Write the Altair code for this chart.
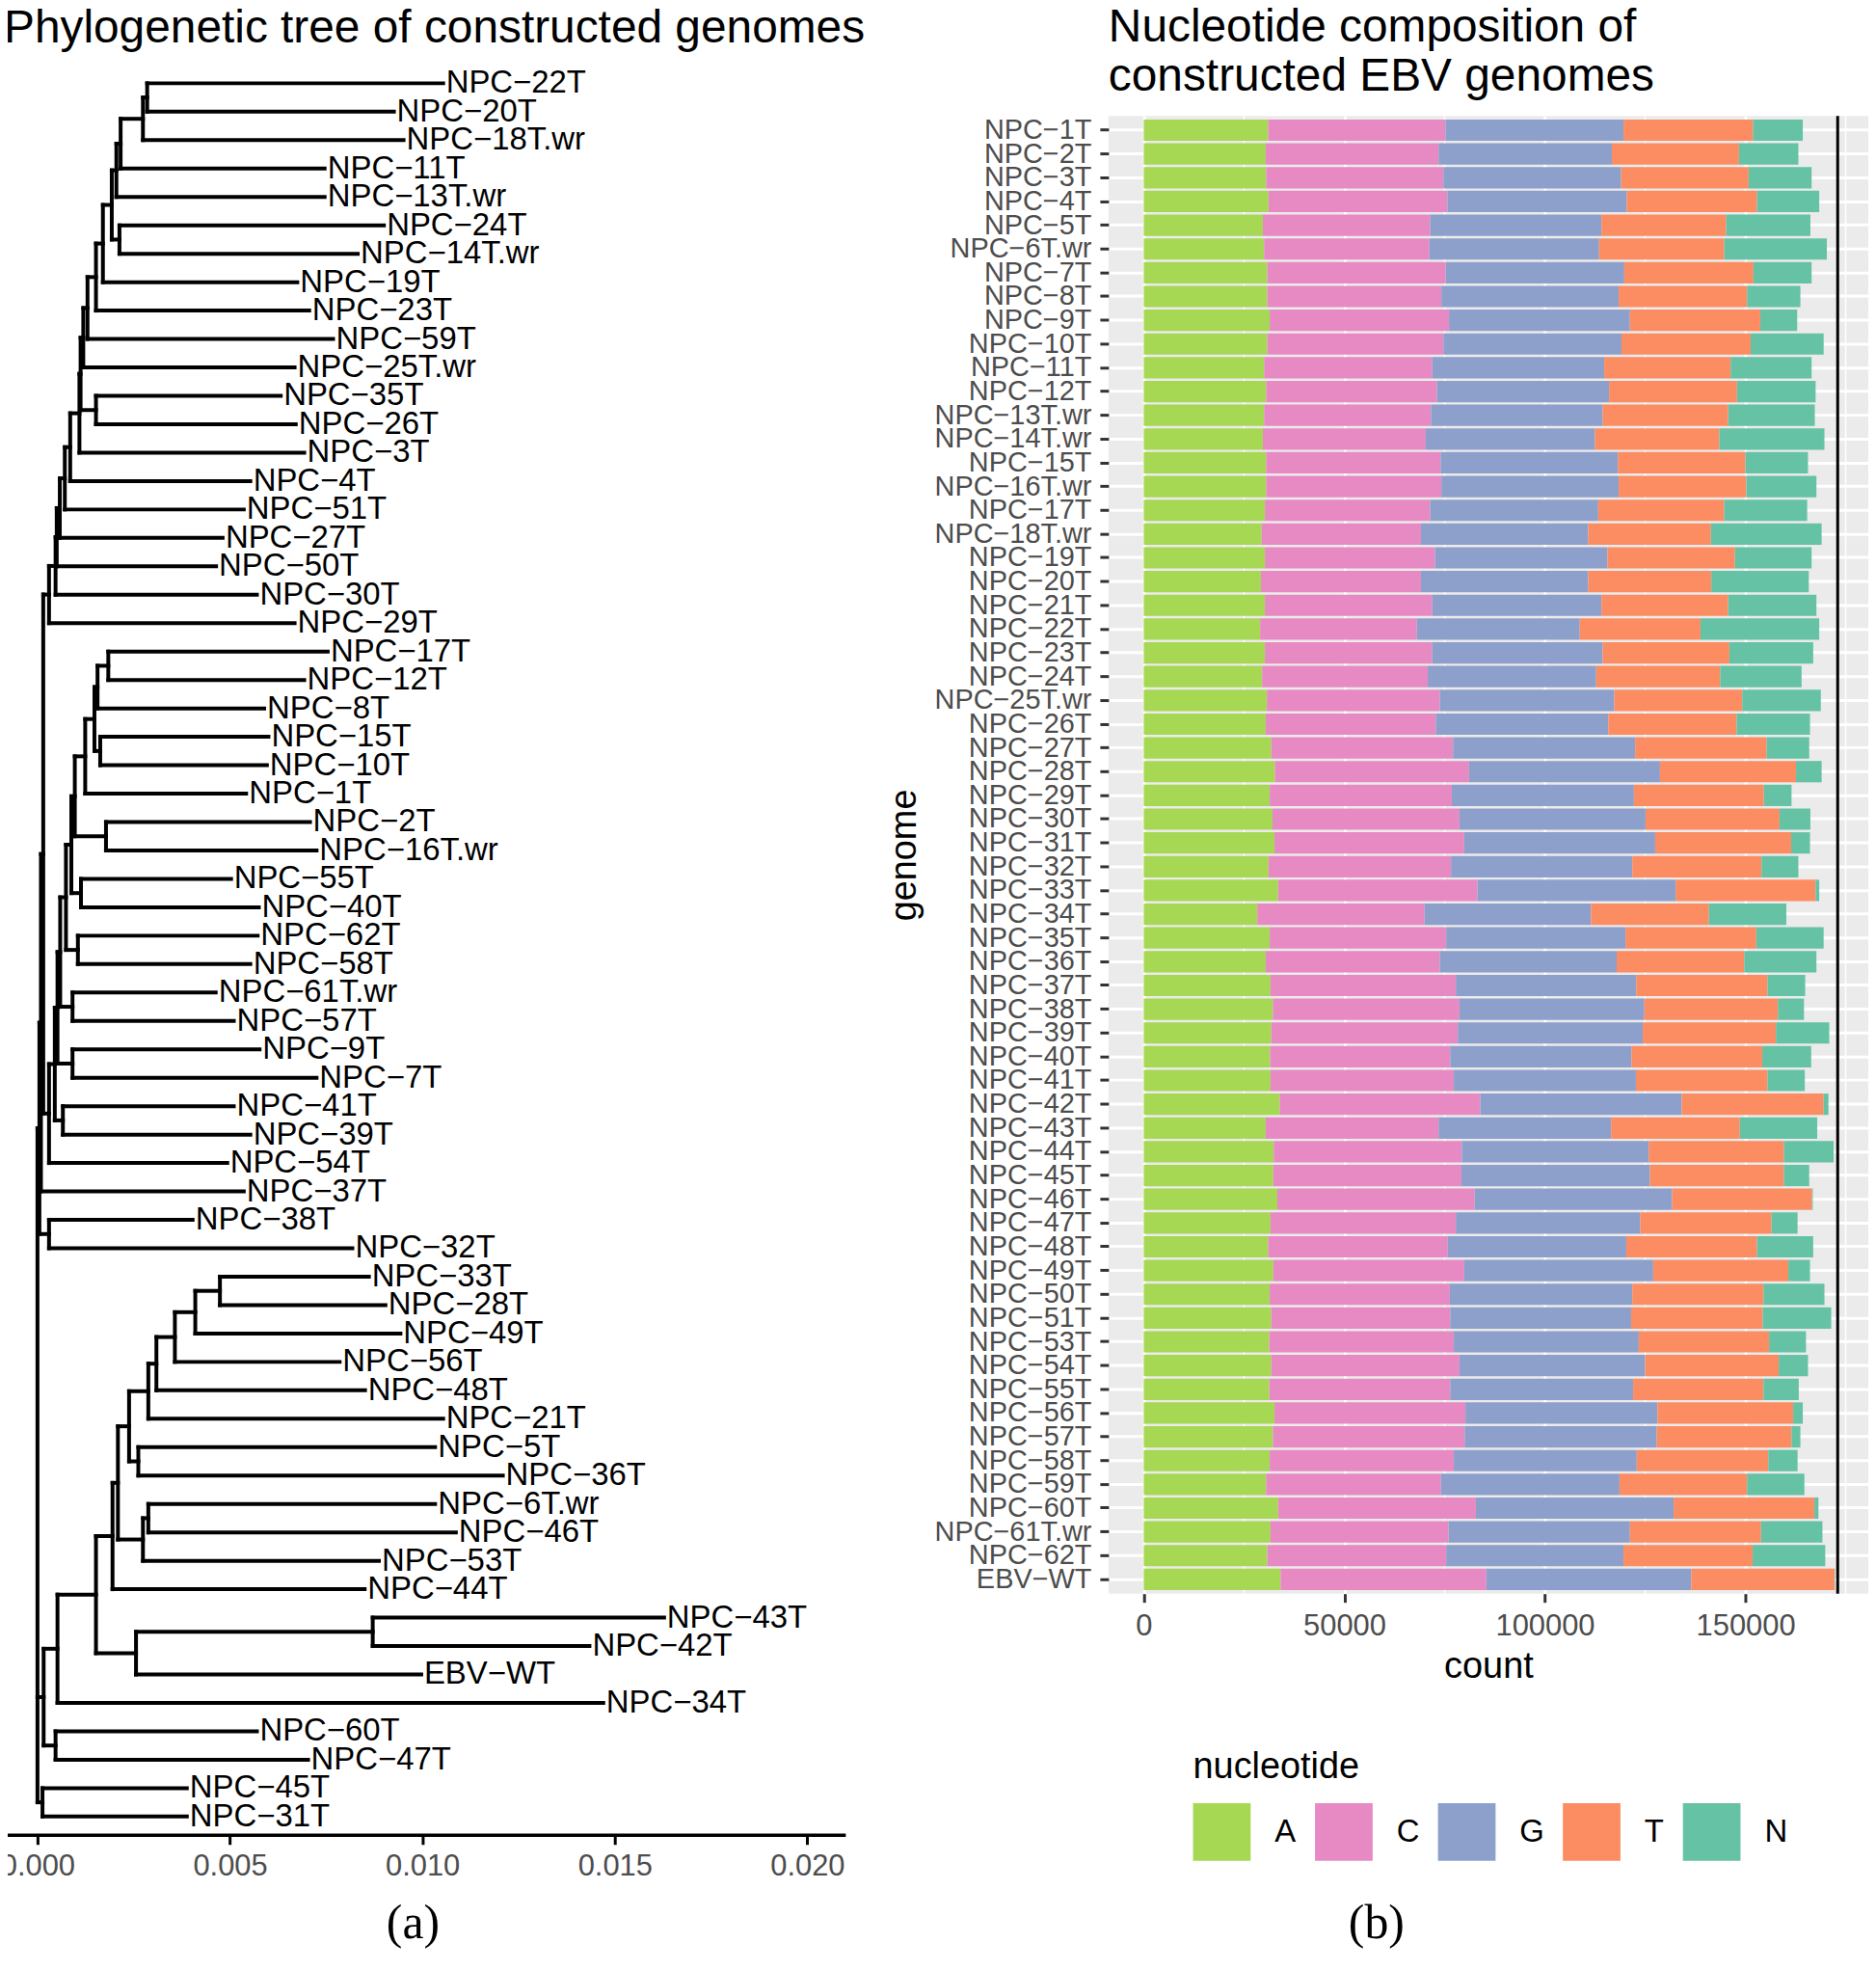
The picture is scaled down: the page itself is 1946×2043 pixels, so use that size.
import altair as alt
import numpy as np
import pandas as pd

FONT = "Liberation Sans"
SERIF = "Liberation Serif"
MINUS = "\u2212"

# ---------------- phylogenetic tree (a) ----------------
tip_labels = ["NPC-22T", "NPC-20T", "NPC-18T.wr", "NPC-11T", "NPC-13T.wr", "NPC-24T", "NPC-14T.wr",
              "NPC-19T", "NPC-23T", "NPC-59T", "NPC-25T.wr", "NPC-35T", "NPC-26T", "NPC-3T", "NPC-4T",
              "NPC-51T", "NPC-27T", "NPC-50T", "NPC-30T", "NPC-29T", "NPC-17T", "NPC-12T", "NPC-8T",
              "NPC-15T", "NPC-10T", "NPC-1T", "NPC-2T", "NPC-16T.wr", "NPC-55T", "NPC-40T", "NPC-62T",
              "NPC-58T", "NPC-61T.wr", "NPC-57T", "NPC-9T", "NPC-7T", "NPC-41T", "NPC-39T", "NPC-54T",
              "NPC-37T", "NPC-38T", "NPC-32T", "NPC-33T", "NPC-28T", "NPC-49T", "NPC-56T", "NPC-48T",
              "NPC-21T", "NPC-5T", "NPC-36T", "NPC-6T.wr", "NPC-46T", "NPC-53T", "NPC-44T", "NPC-43T",
              "NPC-42T", "EBV-WT", "NPC-34T", "NPC-60T", "NPC-47T", "NPC-45T", "NPC-31T"]
tip_dist = [0.01054, 0.00926, 0.00951, 0.00746, 0.00746, 0.00900, 0.00832, 0.00675, 0.00706, 0.00768,
            0.00668, 0.00632, 0.00671, 0.00693, 0.00553, 0.00536, 0.00481, 0.00464, 0.00570, 0.00668,
            0.00754, 0.00693, 0.00589, 0.00600, 0.00596, 0.00542, 0.00708, 0.00725, 0.00503, 0.00575,
            0.00572, 0.00553, 0.00463, 0.00510, 0.00577, 0.00725, 0.00510, 0.00553, 0.00493, 0.00536,
            0.00403, 0.00818, 0.00861, 0.00904, 0.00943, 0.00785, 0.00851, 0.01054, 0.01033, 0.01209,
            0.01033, 0.01087, 0.00887, 0.00850, 0.01628, 0.01434, 0.00997, 0.01470, 0.00570, 0.00703,
            0.00388, 0.00388]

# internal nodes (children listed before parents)
node_ids = ["A", "B", "C", "D", "E", "F", "G", "H", "I", "J", "K", "M", "L", "N", "O", "P", "Q", "R2", "R",
            "S", "T1", "U", "T", "V", "W", "X", "Y1", "Y2", "Y4", "Y5", "Z1", "Z2", "Z4", "Z7", "Z8", "Z9", "Z10",
            "S1", "S2", "O2", "S3",
            "L1", "L2", "L3", "L4", "L5", "L6", "L7", "L8", "L9", "L10", "L11", "M1", "M2", "L12", "L13",
            "P1", "L14", "Q1", "ROOT"]
node_depth = [0.00285, 0.00274, 0.00216, 0.00205, 0.00213, 0.00193, 0.00170, 0.00152, 0.00130, 0.00119,
              0.00152, 0.00112, 0.00109, 0.00085, 0.00071, 0.00058, 0.00050, 0.00047, 0.00030,
              0.00184, 0.00156, 0.00163, 0.00148, 0.00124, 0.00178, 0.00097, 0.00113, 0.00105, 0.00088,
              0.00074, 0.00091, 0.00091, 0.00066, 0.00059, 0.00052, 0.00045, 0.00030,
              0.00015, 0.00009, 0.00030, 0.00005,
              0.00474, 0.00410, 0.00357, 0.00309, 0.00288, 0.00262, 0.00238, 0.00288, 0.00274, 0.00209,
              0.00195, 0.00871, 0.00256, 0.00152, 0.00052, 0.00047, 0.00016, 0.00013, 0.0]
node_kids = [["NPC-22T", "NPC-20T"], ["A", "NPC-18T.wr"], ["B", "NPC-11T"], ["C", "NPC-13T.wr"],
             ["NPC-24T", "NPC-14T.wr"], ["D", "E"], ["F", "NPC-19T"], ["G", "NPC-23T"], ["H", "NPC-59T"],
             ["I", "NPC-25T.wr"], ["NPC-35T", "NPC-26T"], ["J", "K"], ["M", "NPC-3T"], ["L", "NPC-4T"],
             ["N", "NPC-51T"], ["O", "NPC-27T"], ["P", "NPC-50T"], ["Q", "NPC-30T"], ["R2", "NPC-29T"],
             ["NPC-17T", "NPC-12T"], ["S", "NPC-8T"], ["NPC-15T", "NPC-10T"], ["T1", "U"], ["T", "NPC-1T"],
             ["NPC-2T", "NPC-16T.wr"], ["V", "W"], ["NPC-55T", "NPC-40T"], ["NPC-62T", "NPC-58T"],
             ["X", "Y1"], ["Y4", "Y2"], ["NPC-61T.wr", "NPC-57T"], ["NPC-9T", "NPC-7T"],
             ["NPC-41T", "NPC-39T"], ["Y5", "Z1"], ["Z7", "Z2"], ["Z8", "Z4"], ["Z9", "NPC-54T"],
             ["R", "Z10"], ["S1", "NPC-37T"], ["NPC-38T", "NPC-32T"], ["S2", "O2"],
             ["NPC-33T", "NPC-28T"], ["L1", "NPC-49T"], ["L2", "NPC-56T"], ["L3", "NPC-48T"],
             ["L4", "NPC-21T"], ["NPC-5T", "NPC-36T"], ["L5", "L6"], ["NPC-6T.wr", "NPC-46T"],
             ["L8", "NPC-53T"], ["L7", "L9"], ["L10", "NPC-44T"], ["NPC-43T", "NPC-42T"],
             ["M1", "EBV-WT"], ["L11", "M2"], ["L12", "NPC-34T"], ["NPC-60T", "NPC-47T"],
             ["L13", "P1"], ["NPC-45T", "NPC-31T"], ["S3", "L14", "Q1"]]
tree_ticks = [0.0, 0.005, 0.010, 0.015, 0.020]

# ---------------- nucleotide composition (b) ----------------
genomes = ["NPC-1T", "NPC-2T", "NPC-3T", "NPC-4T", "NPC-5T", "NPC-6T.wr", "NPC-7T", "NPC-8T", "NPC-9T",
           "NPC-10T", "NPC-11T", "NPC-12T", "NPC-13T.wr", "NPC-14T.wr", "NPC-15T", "NPC-16T.wr", "NPC-17T",
           "NPC-18T.wr", "NPC-19T", "NPC-20T", "NPC-21T", "NPC-22T", "NPC-23T", "NPC-24T", "NPC-25T.wr",
           "NPC-26T", "NPC-27T", "NPC-28T", "NPC-29T", "NPC-30T", "NPC-31T", "NPC-32T", "NPC-33T",
           "NPC-34T", "NPC-35T", "NPC-36T", "NPC-37T", "NPC-38T", "NPC-39T", "NPC-40T", "NPC-41T",
           "NPC-42T", "NPC-43T", "NPC-44T", "NPC-45T", "NPC-46T", "NPC-47T", "NPC-48T", "NPC-49T",
           "NPC-50T", "NPC-51T", "NPC-53T", "NPC-54T", "NPC-55T", "NPC-56T", "NPC-57T", "NPC-58T",
           "NPC-59T", "NPC-60T", "NPC-61T.wr", "NPC-62T", "EBV-WT"]
# cumulative bar ends (thousands of bases): after A, C, G, T, N
a_end = [31.0, 30.4, 30.5, 31.1, 29.7, 30.0, 30.8, 30.8, 31.4, 30.8,
         30.0, 30.5, 30.0, 29.7, 30.5, 30.5, 30.2, 29.4, 30.2, 29.2,
         30.2, 29.0, 30.2, 29.5, 30.7, 30.4, 31.8, 32.7, 31.4, 32.1,
         32.6, 31.1, 33.5, 28.3, 31.4, 30.4, 31.6, 32.2, 31.8, 31.5,
         31.6, 33.9, 30.4, 32.4, 32.3, 33.3, 31.6, 31.0, 32.3, 31.4,
         31.8, 31.3, 31.8, 31.3, 32.6, 32.2, 31.4, 30.5, 33.5, 31.6,
         30.8, 34.1]
c_end = [75.2, 73.5, 74.7, 75.7, 71.4, 71.2, 75.3, 74.2, 76.1, 74.7,
         71.9, 73.1, 71.6, 70.3, 74.0, 74.2, 71.4, 69.1, 72.6, 69.1,
         71.9, 68.1, 71.9, 70.8, 73.8, 72.8, 77.1, 81.1, 76.8, 78.7,
         79.9, 76.6, 83.2, 70.0, 75.4, 73.8, 77.8, 78.7, 78.3, 76.4,
         77.3, 83.9, 73.5, 79.3, 79.2, 82.5, 77.8, 75.8, 79.9, 76.3,
         76.4, 77.3, 78.7, 76.4, 80.2, 80.0, 77.3, 74.1, 82.8, 76.0,
         75.4, 85.4]
g_end = [119.6, 116.7, 119.0, 120.4, 114.1, 113.5, 119.8, 118.4, 121.2, 119.1,
         114.8, 116.0, 114.4, 112.5, 118.2, 118.4, 113.3, 110.8, 115.6, 110.8,
         114.1, 108.7, 114.4, 112.8, 117.3, 115.8, 122.5, 128.7, 122.2, 125.1,
         127.5, 121.8, 132.6, 111.5, 120.1, 117.9, 122.8, 124.8, 124.4, 121.6,
         122.7, 134.1, 116.5, 125.9, 126.2, 131.7, 123.8, 120.3, 127.0, 121.8,
         121.5, 123.4, 125.0, 122.0, 128.1, 127.9, 122.9, 118.6, 132.1, 121.2,
         119.6, 136.5]
t_end = [151.9, 148.4, 150.8, 152.9, 145.2, 144.7, 152.0, 150.4, 153.7, 151.3,
         146.3, 147.9, 145.7, 143.5, 150.0, 150.2, 144.7, 141.4, 147.4, 141.5,
         145.7, 138.8, 146.0, 143.7, 149.2, 147.8, 155.3, 162.6, 154.6, 158.5,
         161.4, 154.0, 167.5, 140.9, 152.7, 149.7, 155.5, 158.1, 157.6, 154.2,
         155.5, 169.5, 148.6, 159.6, 159.6, 166.6, 156.5, 152.9, 160.7, 154.5,
         154.3, 155.9, 158.3, 154.5, 161.9, 161.5, 155.7, 150.4, 167.2, 153.9,
         151.8, 172.2]
n_end = [164.3, 163.2, 166.5, 168.4, 166.2, 170.3, 166.5, 163.7, 162.9, 169.5,
         166.5, 167.5, 167.3, 169.7, 165.6, 167.7, 165.4, 169.0, 166.5, 165.8,
         167.7, 168.4, 166.9, 164.0, 168.8, 166.1, 165.9, 169.0, 161.5, 166.2,
         166.1, 163.2, 168.4, 160.2, 169.5, 167.7, 164.9, 164.6, 170.9, 166.4,
         164.8, 170.7, 167.9, 172.0, 165.9, 166.8, 163.0, 166.9, 166.1, 169.7,
         171.4, 165.1, 165.6, 163.3, 164.3, 163.7, 163.0, 164.7, 168.2, 169.2,
         169.9, 172.3]
nucleotides = ["A", "C", "G", "T", "N"]
nuc_colors = ["#A6D854", "#E78AC3", "#8DA0CB", "#FC8D62", "#66C2A5"]
reference_length = 173000
count_ticks = [0, 50000, 100000, 150000]
count_minor = [25000, 75000, 125000, 175000]


def disp(s):
    return s.replace("-", MINUS)


# ---- build tree segments ----
pos_x = dict(zip(tip_labels, tip_dist))
pos_y = {t: i + 1 for i, t in enumerate(tip_labels)}
segs = []
for nid, d, kids in zip(node_ids, node_depth, node_kids):
    ys = [pos_y[k] for k in kids]
    pos_x[nid] = d
    pos_y[nid] = float(np.mean(ys))
    segs.append({"x": d, "x2": d, "y": min(ys), "y2": max(ys)})
    for k in kids:
        segs.append({"x": d, "x2": pos_x[k], "y": pos_y[k], "y2": pos_y[k]})
seg_df = pd.DataFrame(segs)
tip_df = pd.DataFrame({"x": tip_dist, "y": [pos_y[t] for t in tip_labels],
                       "label": [disp(t) for t in tip_labels]})

tx = alt.Scale(domain=[-0.000973, 0.020988], nice=False, zero=False)
ty = alt.Scale(domain=[2.1497, 62.6425], nice=False, zero=False, reverse=True)
tree_axis = alt.Axis(values=tree_ticks, format=".3f", title=None, grid=False, labelFlush=False,
                     labelOverlap=False, domainColor="black", domainWidth=3.5, tickColor="black",
                     tickWidth=3, tickSize=10, labelFontSize=31, labelColor="#4D4D4D", labelPadding=8)

branches = alt.Chart(seg_df).mark_rule(color="black", strokeWidth=4, strokeCap="square").encode(
    x=alt.X("x:Q", scale=tx, axis=tree_axis), x2="x2:Q",
    y=alt.Y("y:Q", scale=ty, axis=None), y2="y2:Q")
tips = alt.Chart(tip_df).mark_text(align="left", baseline="middle", dx=3, fontSize=33, color="black").encode(
    x=alt.X("x:Q", scale=tx), y=alt.Y("y:Q", scale=ty), text="label:N")
cap_a = alt.Chart(pd.DataFrame({"t": ["(a)"]})).mark_text(
    font=SERIF, fontSize=50, baseline="middle", align="center", color="black").encode(
    x=alt.value(430), y=alt.value(1882), text="t:N")

left = alt.layer(branches, tips, cap_a).properties(
    width=880, height=1789,
    title=alt.TitleParams("Phylogenetic tree of constructed genomes", anchor="start", frame="group",
                          fontSize=48, fontWeight="normal", offset=17, dx=4, color="black"),
    view=alt.ViewBackground(fill="white", strokeWidth=0))

# ---- build bar data ----
ends = np.array([a_end, c_end, g_end, t_end, n_end]) * 1000.0
counts = np.diff(np.vstack([np.zeros(len(genomes)), ends]), axis=0)
rows = []
for gi, g in enumerate(genomes):
    for ni, n in enumerate(nucleotides):
        rows.append({"genome": disp(g), "nucleotide": n, "count": float(counts[ni, gi]), "ord": ni})
bar_df = pd.DataFrame(rows)
genome_disp = [disp(g) for g in genomes]

cx = alt.Scale(domain=[-8790, 180630], nice=False, zero=False)
gy = alt.Scale(domain=genome_disp, paddingInner=0.1, paddingOuter=0.15)

minor = alt.Chart(pd.DataFrame({"count": count_minor})).mark_rule(color="white", strokeWidth=1.6).encode(
    x=alt.X("count:Q", scale=cx))
bars = alt.Chart(bar_df).mark_bar(strokeWidth=0).encode(
    x=alt.X("count:Q", stack="zero", scale=cx,
            axis=alt.Axis(values=count_ticks, format="d", title="count", labelFlush=False,
                          grid=True, gridColor="white", gridWidth=3, domain=False,
                          tickColor="#333333", tickWidth=3, tickSize=9, labelFontSize=31,
                          labelColor="#4D4D4D", labelPadding=10, titleFontSize=38,
                          titleFontWeight="normal", titleColor="black", titlePadding=8)),
    y=alt.Y("genome:N", scale=gy,
            axis=alt.Axis(title="genome", grid=True, gridColor="white", gridWidth=3, domain=False,
                          tickColor="#333333", tickWidth=3, tickSize=9, labelFontSize=29,
                          labelColor="#4D4D4D", labelPadding=9, labelOverlap=False,
                          titleFontSize=38, titleFontWeight="normal", titleColor="black",
                          titlePadding=12)),
    color=alt.Color("nucleotide:N", scale=alt.Scale(domain=nucleotides, range=nuc_colors),
                    legend=alt.Legend(orient="none", legendX=1242, legendY=1700, direction="horizontal",
                                      title="nucleotide", titleFontSize=38, titleFontWeight="normal",
                                      titleColor="black", titlePadding=18, symbolType="square",
                                      symbolSize=3600, symbolStrokeWidth=0, symbolOpacity=1,
                                      labelFontSize=33, labelColor="black", labelOffset=25,
                                      columnPadding=19, padding=0)),
    order=alt.Order("ord:Q"))
vline = alt.Chart(pd.DataFrame({"count": [reference_length]})).mark_rule(color="black", strokeWidth=3).encode(
    x=alt.X("count:Q", scale=cx))
cap_b = alt.Chart(pd.DataFrame({"t": ["(b)"]})).mark_text(
    font=SERIF, fontSize=50, baseline="middle", align="center", color="black").encode(
    x=alt.value(279), y=alt.value(1882), text="t:N")

right = alt.layer(minor, bars, vline, cap_b).properties(
    width=791, height=1538,
    title=alt.TitleParams(["Nucleotide composition of", "constructed EBV genomes"], anchor="start",
                          frame="group", fontSize=48, fontWeight="normal", lineHeight=51, offset=15,
                          color="black"),
    view=alt.ViewBackground(fill="#EBEBEB", strokeWidth=0))

chart = alt.hconcat(left, right, spacing=274, bounds="flush",
                    padding={"left": -8, "top": -7, "right": 0, "bottom": 0}).configure(
    font=FONT).configure_view(strokeWidth=0)

chart.save("out.html", embed_options={"renderer": "svg", "actions": False})
